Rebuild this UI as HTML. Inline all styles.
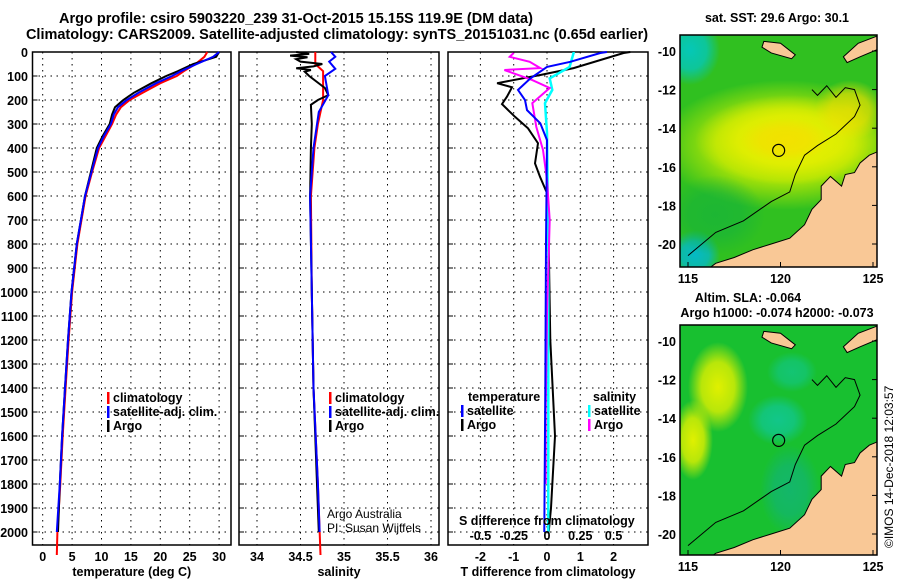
<!DOCTYPE html>
<html><head><meta charset="utf-8">
<style>
body{margin:0;background:#fff;}
svg{display:block;font-family:"Liberation Sans",sans-serif;}
.b{font-weight:bold;font-size:12.5px;}
</style></head>
<body>
<svg id="s" width="900" height="580" viewBox="0 0 900 580">
<text x="296" y="23" text-anchor="middle" font-size="14.5" font-weight="bold">Argo profile: csiro 5903220_239 31-Oct-2015 15.15S 119.9E (DM data)</text>
<text x="337" y="39" text-anchor="middle" font-size="14.5" font-weight="bold">Climatology: CARS2009. Satellite-adjusted climatology: synTS_20151031.nc (0.65d earlier)</text>
<text class="b" x="777" y="22" text-anchor="middle">sat. SST: 29.6 Argo: 30.1</text>
<text class="b" x="748" y="302" text-anchor="middle">Altim. SLA: -0.064</text>
<text class="b" x="777" y="317" text-anchor="middle">Argo h1000: -0.074 h2000: -0.073</text>
<text x="893" y="548" font-size="12" transform="rotate(-90 893 548)">©IMOS 14-Dec-2018 12:03:57</text>
<g id="g"></g>
</svg>
<script>
// ---- data ----
const tDepth=[0,20,50,80,100,130,170,200,230,260,300,350,400,500,600,800,1000,1200,1400,1600,1800,2000];
const tArgo=[30,29.5,25.6,23,21,18.5,15.5,13.7,12.3,11.8,11.4,10.2,9.2,8.2,7.2,5.8,4.9,4.3,3.8,3.3,2.9,2.6];
const tClimDepth=[0,20,50,80,100,130,170,200,230,260,300,350,400,500,600,800,1000,1200,1400,1600,1800,2000,2096];
const tClim=[28,27.5,26,24,22.8,20,17,14.8,13.3,12.5,11.8,10.7,9.6,8.4,7.3,5.9,5.0,4.4,3.9,3.4,3.0,2.5,2.4];
const tSat=[30,29,26.2,23.5,22,19.3,16.3,14.3,12.8,12.1,11.6,10.4,9.4,8.3,7.2,5.8,4.9,4.3,3.8,3.3,2.9,2.4];
const sArgoDepth=[0,8,15,22,30,40,50,60,68,75,82,100,150,180,200,220,300,400,600,1000,1400,1800,2000];
const sArgo=[34.45,34.6,34.38,34.58,34.45,34.5,34.75,34.65,34.45,34.62,34.55,34.6,34.78,34.82,34.7,34.62,34.63,34.62,34.61,34.63,34.65,34.69,34.71];
const sClimDepth=[0,50,80,200,300,400,600,1000,1400,1800,2096];
const sClim=[34.67,34.67,34.76,34.76,34.7,34.66,34.62,34.63,34.65,34.7,34.73];
const sSatDepth=[0,20,40,70,100,180,250,400,600,1000,1400,1800,2000];
const sSat=[34.85,34.9,34.83,34.9,34.78,34.82,34.71,34.65,34.61,34.63,34.65,34.7,34.72];
const dtArgoDepth=[0,4,67,96,130,147,186,217,270,318,380,464,520,588,800,1200,1600,1900,2000];
const dtArgo=[2.5,2.3,0.8,-0.2,-1.5,-1.05,-1.2,-1.35,-0.96,-0.57,-0.27,-0.36,-0.21,0,0.05,0.1,0.24,0.12,0.05];
const dtSatDepth=[0,4,41,62,110,158,200,242,297,367,800,1400,2000];
const dtSat=[1.8,1.6,0.7,0,-0.5,-0.87,-0.66,-0.6,-0.2,0,-0.03,-0.05,-0.08];
const dsSatDepth=[0,4,62,110,158,213,337,800,1400,2000];
const dsSat=[0.2,0.2,0.17,0.02,0.04,-0.015,0,0.01,0.01,0.01];
const dsArgoDepth=[4,20,41,67,75,117,150,213,312,408,533,700,1100,1500,1800];
const dsArgo=[-0.25,-0.28,-0.13,-0.05,-0.32,-0.11,0.02,-0.11,-0.08,-0.03,0,0.02,0,-0.01,-0.01];
const depthTicks=[0,100,200,300,400,500,600,700,800,900,1000,1100,1200,1300,1400,1500,1600,1700,1800,1900,2000];
const tTicks=[0,5,10,15,20,25,30];
const sTicks=[34,34.5,35,35.5,36];
const sTickLabels=["34","34.5","35","35.5","36"];
const dtTicks=[-2,-1,0,1,2];
const dsTicks=[-0.5,-0.25,0,0.25,0.5];
const dsTickLabels=["-0.5","-0.25","0","0.25","0.5"];
// ---- helpers ----
const NS="http://www.w3.org/2000/svg";const G=document.getElementById('g');
function el(t,a,p){const e=document.createElementNS(NS,t);for(const k in a)e.setAttribute(k,a[k]);(p||G).appendChild(e);return e;}
const pTop=52,pBot=545;const yD=d=>52+d*0.24;
function panel(name,x0,x1,xs,ticks,labels,xtitle){
  const g=el('g',{});
  
  
  ticks.forEach((v,i)=>{const x=xs(v);
    const l=el('line',{x1:x,x2:x,y1:pTop,y2:pBot,stroke:'#000','stroke-dasharray':'1.5,4.5'},g);
    
    const t=el('text',{x:x,y:561,'text-anchor':'middle',class:'b'},g);t.textContent=labels[i];
    });
  depthTicks.forEach(d=>{const y=yD(d);
    const l=el('line',{x1:x0,x2:x1,y1:y,y2:y,stroke:'#000','stroke-dasharray':'1.5,4.5'},g);
    
    el('line',{x1:x0,x2:x0+5,y1:y,y2:y,stroke:'#000'},g);});
  const r=el('rect',{x:x0,y:pTop,width:x1-x0,height:pBot-pTop,fill:'none',stroke:'#000','stroke-width':1.5},g);
  
  if(xtitle){const t=el('text',{x:(x0+x1)/2,y:576,'text-anchor':'middle',class:'b'},g);t.textContent=xtitle;
    }
  return g;
}
function line(g,name,xs,ds,vs,col,w){
  const pts=ds.map((d,i)=>xs(vs[i]).toFixed(1)+','+yD(d).toFixed(1)).join(' ');
  const p=el('polyline',{points:pts,fill:'none',stroke:col,'stroke-width':w||2},g);
  
}
function txt(x,y,s,name,cls,anchor){const t=el('text',{x:x,y:y,'text-anchor':anchor||'start'});if(cls)t.setAttribute('class',cls);t.textContent=s;
  return t;}
function leg(x,y,col,s,name){const r=el('rect',{x:x,y:y-10,width:2.5,height:12,fill:col});
  txt(x+6,y,s,name,'b');}
// y axis labels
depthTicks.forEach(d=>{txt(28,yD(d)+5,String(d),'y-tick-label','b','end');});
// panel 1
const xT=v=>42.7+v*5.88;
const p1=panel('temperature-panel',32.5,231,xT,tTicks,tTicks.map(String),'temperature (deg C)');
line(p1,'temp-climatology',xT,tClimDepth,tClim,'#f00');
line(p1,'temp-argo',xT,tDepth,tArgo,'#000');
line(p1,'temp-satellite',xT,tDepth,tSat,'#00f');
leg(107,402,'#f00','climatology','legend-climatology');
leg(107,416,'#00f','satellite-adj. clim.','legend-satellite');
leg(107,430,'#000','Argo','legend-argo');
// panel 2
const xS=v=>257+(v-34)*87;
const p2=panel('salinity-panel',239,439,xS,sTicks,sTickLabels,'salinity');
line(p2,'sal-climatology',xS,sClimDepth,sClim,'#f00');
line(p2,'sal-argo',xS,sArgoDepth,sArgo,'#000');
line(p2,'sal-satellite',xS,sSatDepth,sSat,'#00f');
leg(329,402,'#f00','climatology','legend-sal-climatology');
leg(329,416,'#00f','satellite-adj. clim.','legend-sal-satellite');
leg(329,430,'#000','Argo','legend-sal-argo');
txt(327,518,'Argo Australia','argo-australia-note','','start').setAttribute('font-size','12');
txt(327,532,'PI: Susan Wijffels','pi-note','','start').setAttribute('font-size','12');
// panel 3
const xDT=v=>547+v*33.3, xDS=v=>547+v*133.2;
const p3=panel('difference-panel',448,648,xDT,dtTicks,dtTicks.map(String),'T difference from climatology');
line(p3,'dt-argo',xDT,dtArgoDepth,dtArgo,'#000');
line(p3,'ds-satellite',xDS,dsSatDepth,dsSat,'#0ff',2.5);
line(p3,'ds-argo',xDS,dsArgoDepth,dsArgo,'#f0f');
line(p3,'dt-satellite',xDT,dtSatDepth,dtSat,'#00f');
txt(468,401,'temperature','legend-temperature-heading','b');
leg(461,415,'#00f','satellite','legend-dt-satellite');
leg(461,429,'#000','Argo','legend-dt-argo');
txt(593,401,'salinity','legend-salinity-heading','b');
leg(588,415,'#0ff','satellite','legend-ds-satellite');
leg(588,429,'#f0f','Argo','legend-ds-argo');
txt(459,525,'S difference from climatology','s-diff-axis-title','b');
dsTicks.forEach((v,i)=>txt(xDS(v),540,dsTickLabels[i],'s-diff-tick-label','b','middle'));
// ---- maps ----
const mapLatTicks=[-10,-12,-14,-16,-18,-20];const mapLonTicks=[115,120,125];
function map(name,y0,y1,latTop,kind){
  const X=lon=>688+(lon-115)*18.5, Y=lat=>latTop+(-10-lat)*19.3;
  const g=el('g',{});
  const id='c'+kind;
  const defs=el('defs',{},g);
  const cp=el('clipPath',{id:id},defs);el('rect',{x:680,y:y0,width:197,height:y1-y0},cp);
  const c=el('g',{'clip-path':'url(#'+id+')'},g);
  let n=0;
  function blob(cx,cy,rx,ry,col,op){const gid=id+'b'+(n++);
    const rg=el('radialGradient',{id:gid},defs);el('stop',{offset:'0','stop-color':col,'stop-opacity':op},rg);el('stop',{offset:'0.55','stop-color':col,'stop-opacity':op*0.8},rg);el('stop',{offset:'1','stop-color':col,'stop-opacity':0},rg);
    el('ellipse',{cx:cx,cy:cy,rx:rx,ry:ry,fill:'url(#'+gid+')'},c);}
  if(kind==='sst'){
    el('rect',{x:680,y:y0,width:197,height:y1-y0,fill:'#30c020'},c);
    blob(690,50,30,35,'#00c8c8',0.9);blob(695,255,25,25,'#00b8d8',0.9);
    blob(785,145,125,65,'#c8ec00',1);blob(790,140,95,45,'#eef000',0.9);
    blob(785,140,45,22,'#f8d800',0.6);blob(850,110,35,30,'#f0e000',0.8);blob(715,215,50,40,'#10b040',0.6);
  } else {
    el('rect',{x:680,y:y0,width:197,height:y1-y0,fill:'#18c030'},c);
    blob(718,387,30,45,'#e0f000',1);blob(693,440,20,40,'#e0f000',1);
    blob(778,420,30,25,'#10c8a0',0.8);blob(792,372,25,20,'#10c8a0',0.6);blob(790,490,30,45,'#10b090',0.6);
  }
  const land=[[115.8,-21.5],[116.5,-21],[117.5,-20.7],[118.5,-20.3],[119.5,-20],[120.5,-19.7],[121.3,-19],[121.7,-18.2],[122.2,-17.7],[122.2,-17],[122.7,-16.5],[123.3,-17],[123.5,-16.4],[124,-16.3],[124.3,-15.8],[124.8,-15.4],[125.3,-15.2],[125.3,-21.5]];
  const sumba=[[119.1,-9.5],[120,-9.6],[120.8,-10.2],[120.6,-10.4],[119.5,-10.1],[119.0,-9.8]];
  const timor=[[123.4,-10.3],[124.2,-9.6],[125.3,-9.2],[125.3,-9.9],[124.3,-10.3],[123.6,-10.6]];
  [land,sumba,timor].forEach(poly=>{const p=el('polygon',{points:poly.map(q=>X(q[0])+','+Y(q[1])).join(' '),fill:'#f9c896',stroke:'#000','stroke-width':1},c);
    });
  const iso=[[115,-20.6],[116.5,-19.4],[118,-18.8],[119.5,-17.8],[120.5,-17.3],[120.8,-16.4],[121.3,-15.4],[122,-14.9],[123,-14.3],[124,-13.4],[124.3,-12.8],[124,-12],[123.5,-11.9],[123,-12.4],[122.5,-11.8],[122,-12.3],[121.7,-12.0]];
  el('polyline',{points:iso.map(q=>X(q[0])+','+Y(q[1])).join(' '),fill:'none',stroke:'#000','stroke-width':1},c);
  const ci=el('circle',{cx:X(119.9),cy:Y(-15.15),r:6,fill:'none',stroke:'#000','stroke-width':1.2},g);
  
  el('rect',{x:680,y:y0,width:197,height:y1-y0,fill:'none',stroke:'#000','stroke-width':1.5},g);
  mapLatTicks.forEach(l=>{el('line',{x1:877,x2:872,y1:Y(l),y2:Y(l),stroke:'#000'},g);
    const t=el('text',{x:676,y:Y(l)+5,'text-anchor':'end',class:'b'},g);t.textContent=String(l);
    });
  mapLonTicks.forEach(l=>{el('line',{x1:X(l),x2:X(l),y1:y1,y2:y1-5,stroke:'#000'},g);
    const t=el('text',{x:X(l),y:y1+16,'text-anchor':'middle',class:'b'},g);t.textContent=String(l);
    });
}
map('sst-map',35,267,51,'sst');
map('sla-map',325,555,341,'sla');
</script>
</body></html>
